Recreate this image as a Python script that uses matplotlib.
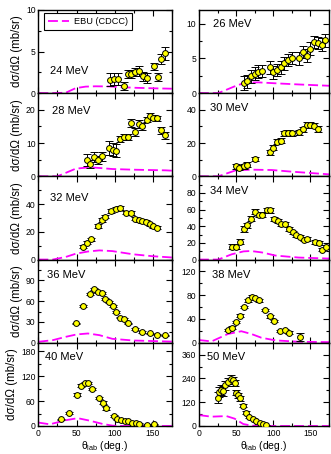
import numpy as np
import matplotlib.pyplot as plt
from matplotlib.ticker import MultipleLocator

plt.rcParams['font.family'] = ['Liberation Sans', 'DejaVu Sans']
plt.rcParams['mathtext.fontset'] = 'custom'
plt.rcParams['mathtext.rm'] = 'Liberation Sans'
plt.rcParams['mathtext.it'] = 'Liberation Sans:italic'

# --- dados experimentais (theta_lab, dsigma/dOmega, erro) e curvas EBU (CDCC) ---
th24 = [94, 99, 104, 112, 117, 121.5, 126.5, 132, 137, 142, 151.5, 156.5, 161.5, 166]
y24 = [1.6, 1.7, 1.7, 0.85, 2.3, 2.3, 2.5, 2.7, 2.0, 1.8, 3.2, 1.9, 4.1, 4.8]
e24 = [0.8, 0.7, 0.7, 0.45, 0.5, 0.5, 0.5, 0.6, 0.55, 0.6, 0.45, 0.5, 0.6, 0.8]
ebu_th24 = [0, 20, 36, 49, 62, 75, 93, 124, 150, 175]
ebu24 = [0, 0, 0.05, 0.6, 0.78, 0.82, 0.8, 0.65, 0.58, 0.53]

th26 = [61, 65, 70, 75, 80, 85, 95, 100, 105, 110, 115, 120, 125, 135, 140, 145, 150, 155, 160, 165, 170]
y26 = [1.4, 1.7, 2.4, 2.8, 3.1, 3.2, 3.7, 3.0, 3.3, 3.7, 4.3, 4.8, 5.1, 5.0, 5.9, 5.4, 6.4, 7.4, 7.2, 7.0, 7.6]
e26 = [1.0, 0.9, 0.9, 0.9, 0.9, 0.9, 0.9, 0.9, 0.9, 0.9, 0.9, 0.9, 0.9, 0.9, 0.9, 0.9, 0.9, 0.9, 0.9, 0.9, 0.9]
ebu_th26 = [0, 26, 50, 62, 80, 102, 134, 175]
ebu26 = [0, 0, 1.06, 1.5, 1.55, 1.42, 1.25, 1.06]

th28 = [64, 68, 73, 78, 83, 92.5, 98, 102, 107.5, 112, 117, 122, 127, 132, 136, 142, 146.5, 151, 156, 161.5, 166]
y28 = [4.8, 3.6, 5.7, 4.9, 6.0, 8.5, 8.0, 7.7, 11.3, 11.7, 11.8, 16.0, 13.4, 15.7, 15.0, 17.0, 18.2, 17.6, 17.4, 13.8, 12.3]
e28 = [1.8, 1.2, 1.5, 1.3, 1.3, 2.2, 2.0, 2.0, 0.9, 0.9, 0.9, 1.1, 1.2, 1.1, 1.0, 0.8, 0.7, 0.7, 0.7, 1.1, 1.1]
ebu_th28 = [0, 25, 49, 62, 75, 97, 124, 167, 175]
ebu28 = [0, 0, 2.3, 2.6, 2.6, 2.2, 2.0, 1.8, 1.7]

th30 = [49.5, 54.5, 60, 65, 75, 95, 100, 105, 110, 115, 120, 125, 135, 140, 145, 150, 155, 160]
y30 = [6.0, 5.2, 6.0, 7.1, 10.5, 14.5, 17.3, 20.8, 21.4, 25.8, 26.2, 25.8, 26.4, 28.2, 30.8, 31.0, 30.4, 28.4]
e30 = [1.4, 1.4, 1.4, 1.4, 1.4, 1.6, 1.6, 1.6, 1.4, 1.4, 1.4, 1.4, 1.6, 1.6, 1.6, 1.6, 1.6, 1.6]
ebu_th30 = [0, 26, 49.5, 71, 98, 125, 150, 175]
ebu30 = [0, 0, 3.6, 4.0, 3.8, 2.8, 2.0, 1.2]

th32 = [58, 63.5, 68.5, 78, 83, 87.5, 95, 102, 107, 115.5, 122, 127, 131.5, 136, 141.5, 146.5, 151, 156]
y32 = [9.4, 12.2, 14.6, 24.0, 28.7, 31.0, 34.8, 36.7, 37.2, 33.9, 33.4, 29.4, 28.2, 27.7, 27.3, 25.4, 24.0, 23.1]
e32 = [1.2, 1.2, 1.2, 1.4, 1.4, 1.4, 1.4, 1.4, 1.4, 1.4, 1.4, 1.2, 1.2, 1.2, 1.2, 1.2, 1.2, 1.2]
ebu_th32 = [0, 19, 36, 49, 65, 80, 97, 124, 150, 175]
ebu32 = [0, 0, 1.9, 4.2, 5.8, 6.6, 6.1, 3.8, 2.4, 1.5]

th34 = [44, 49.5, 55, 60, 65, 70.5, 75.5, 80.5, 85.5, 91, 96, 101, 106, 111, 116, 121, 126, 131, 136, 141, 146, 156, 161, 166, 171]
y34 = [15.1, 15.1, 21.4, 36.5, 41.2, 49.1, 57.5, 53.9, 53.9, 59.0, 59.0, 49.1, 46.8, 43.2, 43.2, 36.5, 32.9, 29.3, 27.3, 23.8, 24.5, 21.0, 19.8, 11.9, 15.5]
e34 = [3.0, 3.0, 3.2, 3.5, 3.2, 3.2, 3.2, 3.0, 3.0, 3.0, 3.0, 2.5, 2.5, 2.5, 2.5, 2.2, 2.0, 2.0, 2.0, 2.0, 2.0, 2.0, 2.0, 2.0, 2.0]
ebu_th34 = [0, 26, 44, 60, 70, 85, 103, 134, 175]
ebu34 = [0, 0, 6.3, 9.8, 10.3, 8.5, 4.8, 2.4, 1.2]

th36 = [48.7, 58.3, 68, 73.2, 78, 83, 87.7, 92.5, 97.8, 102, 107.5, 112, 117, 127, 136, 146.5, 156, 166]
y36 = [27.8, 53.1, 69.9, 77.0, 72.7, 72.3, 62.7, 58.9, 52.6, 44.5, 36.4, 34.4, 27.8, 20.1, 15.3, 13.4, 11.6, 10.5]
e36 = [1.2, 1.5, 1.5, 1.5, 1.5, 1.5, 1.5, 1.5, 1.2, 1.2, 1.2, 1.2, 1.0, 1.0, 1.0, 1.0, 1.0, 1.0]
ebu_th36 = [0, 19, 36, 50, 65, 80, 97, 124, 167, 175]
ebu36 = [1.4, 3.8, 8.6, 12.0, 13.4, 11.0, 5.7, 3.3, 1.9, 1.7]

th38 = [38.7, 44, 49.5, 55, 60.4, 65.8, 70.8, 75.7, 81, 88.3, 95.5, 100.5, 109.5, 116, 121, 136]
y38 = [21.7, 25.6, 34.8, 45.6, 60.5, 71.3, 77.6, 75.3, 71.3, 54.7, 44.4, 36.6, 20.0, 21.1, 17.1, 9.7]
e38 = [2.0, 2.0, 2.0, 2.0, 2.0, 2.5, 2.5, 2.5, 2.5, 2.0, 2.0, 2.0, 2.0, 2.0, 3.0, 6.0]
ebu_th38 = [0, 17, 39, 57, 70.5, 84, 103, 134.5, 175]
ebu38 = [4.6, 2.3, 14.8, 19.4, 14.8, 8.5, 4.0, 1.7, 1.1]

th40 = [30, 40, 50.5, 55.3, 60.5, 65, 70, 79.3, 84.4, 89.2, 99, 103.6, 108.5, 113, 118, 122.6, 127.4, 132.5, 142, 151.5]
y40 = [15.6, 30.3, 75.2, 97.3, 103.9, 103.9, 89.2, 67.2, 56.4, 42.6, 23.8, 17.2, 14.0, 10.8, 10.8, 7.6, 6.0, 4.4, 2.8, 3.6]
e40 = [2.0, 2.5, 3.0, 3.0, 3.0, 3.0, 3.0, 3.0, 3.0, 3.0, 2.0, 2.0, 2.0, 2.0, 2.0, 2.0, 2.0, 2.0, 2.0, 2.0]
ebu_th40 = [0, 15, 36, 51.6, 66.8, 84.3, 97.4, 110, 175]
ebu40 = [8.2, 4.0, 13.9, 18.8, 13.0, 4.9, 0.8, 0, 0]

th50 = [25, 27.5, 29.7, 32.3, 35, 39.4, 43, 46.4, 48.6, 50, 52.4, 54.6, 59, 63.7, 68, 72.5, 77, 81.7, 86, 90.6]
y50 = [143, 172, 183, 177, 205, 223, 238, 230, 217, 168, 155, 140, 102, 68, 47, 35, 23, 17, 10, 3]
e50 = [27, 25, 25, 25, 22, 20, 18, 18, 16, 14, 14, 12, 8, 6, 5, 5, 4, 4, 4, 4]
ebu_th50 = [0, 16.7, 37, 48, 59.6, 71, 85, 175]
ebu50 = [55, 47, 50, 37, 10, 1.7, 0, 0]

energias = ['24 MeV', '26 MeV', '28 MeV', '30 MeV', '32 MeV', '34 MeV', '36 MeV', '38 MeV', '40 MeV', '50 MeV']
ylims = [10, 12, 25, 50, 60, 100, 120, 140, 200, 420]
yticks = [[0, 5, 10], [0, 5, 10], [0, 10, 20], [0, 20, 40], [0, 20, 40],
          [0, 20, 40, 60, 80], [0, 30, 60, 90], [0, 40, 80, 120], [0, 60, 120, 180], [0, 120, 240, 360]]
yminor = [2.5, 2.5, 5, 10, 10, 10, 15, 20, 30, 60]
label_pos = [(0.09, 0.26), (0.11, 0.83), (0.10, 0.78), (0.085, 0.82), (0.09, 0.74),
             (0.085, 0.82), (0.066, 0.82), (0.10, 0.81), (0.05, 0.83), (0.06, 0.83)]

dados = [(th24, y24, e24, ebu_th24, ebu24), (th26, y26, e26, ebu_th26, ebu26),
         (th28, y28, e28, ebu_th28, ebu28), (th30, y30, e30, ebu_th30, ebu30),
         (th32, y32, e32, ebu_th32, ebu32), (th34, y34, e34, ebu_th34, ebu34),
         (th36, y36, e36, ebu_th36, ebu36), (th38, y38, e38, ebu_th38, ebu38),
         (th40, y40, e40, ebu_th40, ebu40), (th50, y50, e50, ebu_th50, ebu50)]

fig = plt.figure(figsize=(3.31, 4.54), dpi=100)
lefts = [0.116, 0.601]
widths = [0.403, 0.393]
base = 0.0617
h = 0.1833

for i, (th, y, e, eth, ebu) in enumerate(dados):
    row, col = divmod(i, 2)
    ax = fig.add_axes([lefts[col], base + (4 - row) * h, widths[col], h])

    ax.plot(eth, ebu, color='#FF00FF', lw=1.3, linestyle=(0, (5.5, 2.2)),
            label='EBU (CDCC)', zorder=2)
    ax.errorbar(th, y, yerr=e, fmt='o', color='black', ecolor='black', elinewidth=0.7,
                capsize=2.8, capthick=0.7, markersize=4.2, markerfacecolor='#FFFF00',
                markeredgecolor='black', markeredgewidth=0.7, zorder=3)

    ax.set_xlim(0, 175)
    ax.set_ylim(0, ylims[i])
    ax.xaxis.set_major_locator(MultipleLocator(50))
    ax.xaxis.set_minor_locator(MultipleLocator(25))
    ax.set_yticks(yticks[i])
    ax.yaxis.set_minor_locator(MultipleLocator(yminor[i]))
    ax.tick_params(which='both', direction='in', top=True, right=True, labelsize=6.2, width=0.8, pad=2)
    ax.tick_params(which='major', length=4)
    ax.tick_params(which='minor', length=2.2)
    for s in ax.spines.values():
        s.set_linewidth(1.0)

    ax.text(label_pos[i][0], label_pos[i][1], energias[i], transform=ax.transAxes,
            fontsize=8, ha='left', va='center')

    if row < 4:
        ax.tick_params(labelbottom=False)
    else:
        ax.set_xlabel(r'θ$_\mathrm{lab}$ (deg.)', fontsize=7.5, labelpad=1)
    if col == 0:
        ax.set_ylabel('dσ/dΩ (mb/sr)', fontsize=8.3, labelpad=2)
    if i == 0:
        leg = ax.legend(loc='upper left', bbox_to_anchor=(0.04, 0.965), borderaxespad=0,
                        fontsize=6.6, fancybox=False, edgecolor='black', framealpha=1,
                        handlelength=2.3, handletextpad=0.5, borderpad=0.45)
        leg.get_frame().set_linewidth(0.8)

plt.savefig('out.png', dpi=100)
